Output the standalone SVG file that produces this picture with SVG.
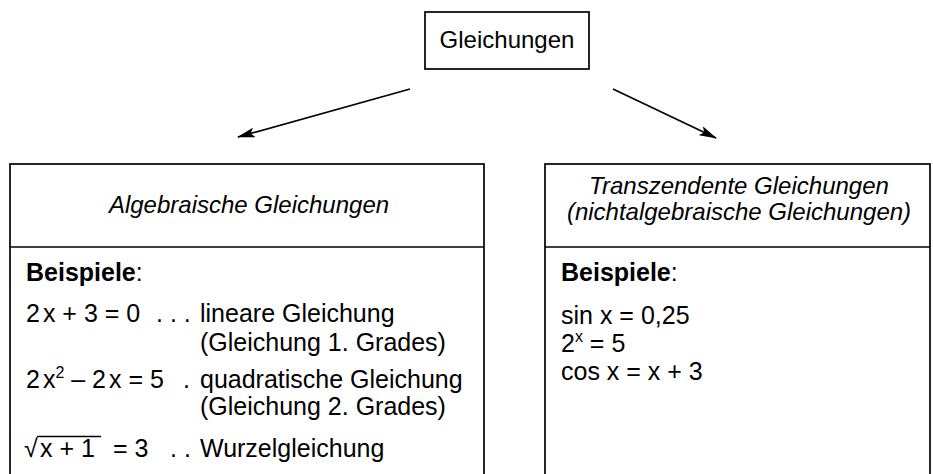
<svg xmlns="http://www.w3.org/2000/svg" width="933" height="474" viewBox="0 0 933 474">
  <style>
    .box { fill: none; stroke: #000; stroke-width: 1.7; }
    .edge { stroke: #000; stroke-width: 1.7; fill: none; }
    text { font-family: "Liberation Sans", Arial, sans-serif; fill: #000; }
    .t { font-size: 25px; }
    .title { font-size: 24px; font-style: italic; text-anchor: middle; }
    .b { font-weight: bold; }
    .sup { font-size: 16px; }
  </style>
  <defs>
    <marker id="arrow" viewBox="0 0 18 10" refX="17" refY="5" markerWidth="18" markerHeight="10" markerUnits="userSpaceOnUse" orient="auto">
      <path d="M0,0 L18,5 L0,10 L4,5 Z" fill="#000"/>
    </marker>
  </defs>

  <rect width="933" height="474" fill="#fff"/>

  <!-- root node -->
  <g id="root">
    <rect class="box" x="425" y="12" width="164" height="57"/>
    <text x="507" y="48" font-size="24" text-anchor="middle">Gleichungen</text>
  </g>

  <!-- connectors -->
  <g id="connectors">
    <line class="edge" x1="410" y1="89" x2="238" y2="137" marker-end="url(#arrow)"/>
    <line class="edge" x1="613" y1="89" x2="716" y2="138" marker-end="url(#arrow)"/>
  </g>

  <!-- algebraic equations -->
  <g id="algebraic">
    <rect class="box" x="10" y="164" width="474" height="330"/>
    <line class="edge" x1="10" y1="247" x2="484" y2="247"/>
    <text class="title" x="249" y="213">Algebraische Gleichungen</text>
    <text class="t" x="26" y="281"><tspan class="b">Beispiele</tspan>:</text>

    <text class="t" x="26" y="322">2<tspan dx="3">x + 3 = 0</tspan></text>
    <text class="t" x="156" y="322">. . .</text>
    <text class="t" x="200" y="322">lineare Gleichung</text>
    <text class="t" x="200" y="351">(Gleichung 1. Grades)</text>

    <text class="t" x="26" y="388">2<tspan dx="3">x</tspan><tspan class="sup" dy="-10">2</tspan><tspan dy="10"> – 2</tspan><tspan dx="3">x = 5</tspan></text>
    <text class="t" x="183" y="388">.</text>
    <text class="t" x="200" y="388">quadratische Gleichung</text>
    <text class="t" x="200" y="415">(Gleichung 2. Grades)</text>

    <text class="t" x="24" y="457">√</text>
    <line x1="37" y1="436.5" x2="101" y2="436.5" stroke="#000" stroke-width="1.5"/>
    <text class="t" x="40" y="457">x + 1</text>
    <text class="t" x="113" y="457">=  3</text>
    <text class="t" x="170" y="457">. .</text>
    <text class="t" x="200" y="457">Wurzelgleichung</text>
  </g>

  <!-- transcendental equations -->
  <g id="transcendental">
    <rect class="box" x="545" y="164" width="385" height="330"/>
    <line class="edge" x1="545" y1="247" x2="930" y2="247"/>
    <text class="title" x="739" y="194">Transzendente Gleichungen</text>
    <text class="title" x="739" y="220">(nichtalgebraische Gleichungen)</text>
    <text class="t" x="561" y="281"><tspan class="b">Beispiele</tspan>:</text>
    <text class="t" x="561" y="324">sin x = 0,25</text>
    <text class="t" x="561" y="352">2<tspan class="sup" dy="-10">x</tspan><tspan dy="10"> = 5</tspan></text>
    <text class="t" x="561" y="380">cos x = x + 3</text>
  </g>
</svg>
